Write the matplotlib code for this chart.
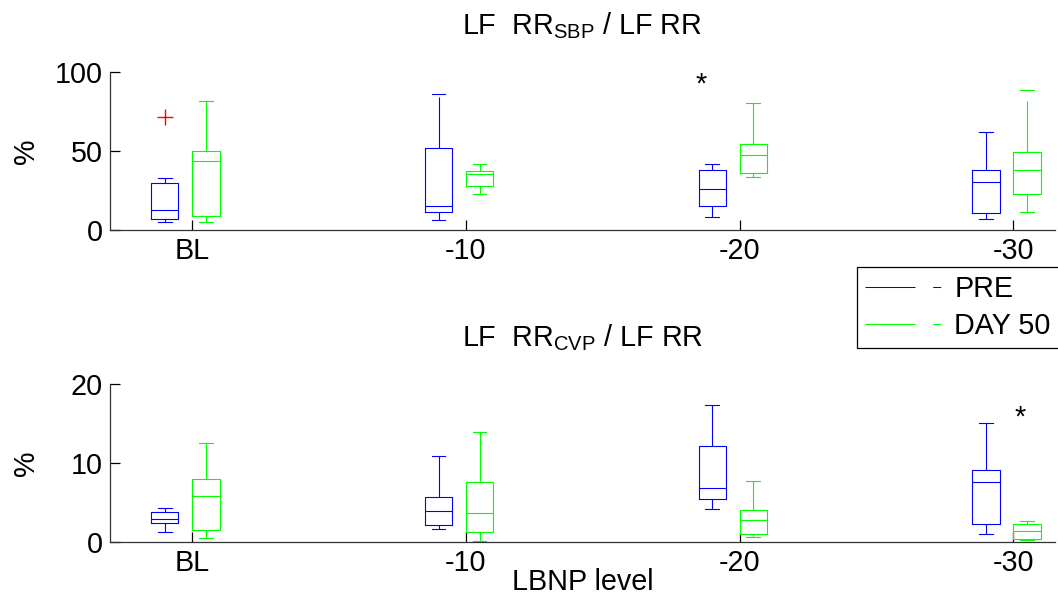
import numpy as np
import matplotlib
matplotlib.use('Agg')
import matplotlib.pyplot as plt
from matplotlib.lines import Line2D

plt.rcParams['font.family'] = ['Liberation Sans', 'DejaVu Sans']
plt.rcParams['mathtext.default'] = 'regular'

levels = ['BL', '-10', '-20', '-30']

# each box: [whisker low, q1, median, q3, whisker high]
sbp_pre = [[5.3, 7.2, 12.6, 29.6, 33.0],
           [6.3, 11.4, 15.4, 52.0, 86.1],
           [8.4, 15.0, 25.7, 37.7, 41.9],
           [6.9, 10.7, 30.5, 37.7, 62.1]]
sbp_day50 = [[5.3, 9.1, 43.4, 50.1, 81.7],
             [22.5, 28.0, 35.2, 37.1, 41.7],
             [33.7, 35.8, 47.6, 54.1, 80.0],
             [11.6, 22.5, 37.7, 49.3, 88.4]]
sbp_pre_outliers = [[71.2], [], [], []]

cvp_pre = [[1.31, 2.36, 2.9, 3.84, 4.35],
           [1.6, 2.2, 3.97, 5.7, 10.9],
           [4.2, 5.5, 6.8, 12.2, 17.4],
           [1.05, 2.28, 7.55, 9.07, 15.0]]
cvp_day50 = [[0.55, 1.48, 5.78, 8.02, 12.57],
             [0.17, 1.22, 3.67, 7.55, 13.97],
             [0.63, 1.05, 2.83, 4.1, 7.7],
             [0.21, 0.42, 1.39, 2.28, 2.6]]
no_outliers = [[], [], [], []]

# significance marks: (x, y)
sbp_star = (2.859, 87.0)
cvp_star = (4.024, 14.8)

FS = 20.7
LW = 0.8


def to_stats(boxes, outliers):
    stats = []
    for b, fl in zip(boxes, outliers):
        stats.append(dict(whislo=b[0], q1=b[1], med=b[2], q3=b[3],
                          whishi=b[4], fliers=fl))
    return stats


def draw_boxes(ax, boxes, outliers, pos, color):
    ax.bxp(to_stats(boxes, outliers), positions=pos, widths=0.1,
           capwidths=0.05, showfliers=True, manage_ticks=False,
           boxprops=dict(color=color, lw=LW),
           medianprops=dict(color=color, lw=LW),
           whiskerprops=dict(color=color, lw=LW, linestyle=(0, (46, 19))),
           capprops=dict(color=color, lw=LW),
           flierprops=dict(marker='+', color='red', markeredgecolor='red',
                           markersize=11, markeredgewidth=1.0,
                           linestyle='none'))


def panel(ax, pre, day, pre_fl, title, ymax, yticks, star):
    x = np.arange(1, len(levels) + 1)
    draw_boxes(ax, pre, pre_fl, x - 0.1, 'blue')
    draw_boxes(ax, day, no_outliers, x + 0.05, 'lime')
    ax.text(star[0], star[1], '*', fontsize=FS, ha='center', va='baseline')
    ax.set_xlim(0.7, 4.152)
    ax.set_ylim(0, ymax)
    ax.set_xticks(x)
    ax.set_xticklabels(levels)
    ax.set_yticks(yticks)
    ax.spines['top'].set_visible(False)
    ax.spines['right'].set_visible(False)
    for s in ['left', 'bottom']:
        ax.spines[s].set_linewidth(0.9)
        ax.spines[s].set_color('#333333')
    ax.tick_params(direction='in', length=7, width=0.9, labelsize=FS, pad=5)
    ax.set_title(title, fontsize=FS, y=1.238, pad=0, va='baseline')
    ax.set_ylabel('%', fontsize=FS)
    ax.yaxis.set_label_coords(-0.074, 0.5)


fig = plt.figure(figsize=(10.58, 5.95), dpi=100)
ax1 = fig.add_axes([0.10397, 0.61345, 0.8932, 0.26605])
ax2 = fig.add_axes([0.10397, 0.08908, 0.8932, 0.26555])

panel(ax1, sbp_pre, sbp_day50, sbp_pre_outliers,
      'LF  RR$_{SBP}$ / LF RR', 100, [0, 50, 100], sbp_star)
panel(ax2, cvp_pre, cvp_day50, no_outliers,
      'LF  RR$_{CVP}$ / LF RR', 20, [0, 10, 20], cvp_star)
ax2.set_xlabel('LBNP level', fontsize=FS)
ax2.xaxis.set_label_coords(0.5, -0.165)

# legend handles mimic the long + short segment sample
handles = [Line2D([], [], color='blue', lw=0.75, linestyle=(0, (48, 17, 7.7, 100))),
           Line2D([], [], color='lime', lw=0.75, linestyle=(0, (48, 17, 7.7, 100)))]
leg = fig.legend(handles, ['PRE', 'DAY 50'], loc='upper left',
                 bbox_to_anchor=(857.3 / 1058, 1 - 266.7 / 595),
                 fontsize=FS, handlelength=2.8, handletextpad=0.3,
                 borderpad=0.28, labelspacing=0.32, fancybox=False,
                 framealpha=1, edgecolor='black', borderaxespad=0)
leg.get_frame().set_linewidth(0.9)

fig.savefig('out.png', dpi=100)
